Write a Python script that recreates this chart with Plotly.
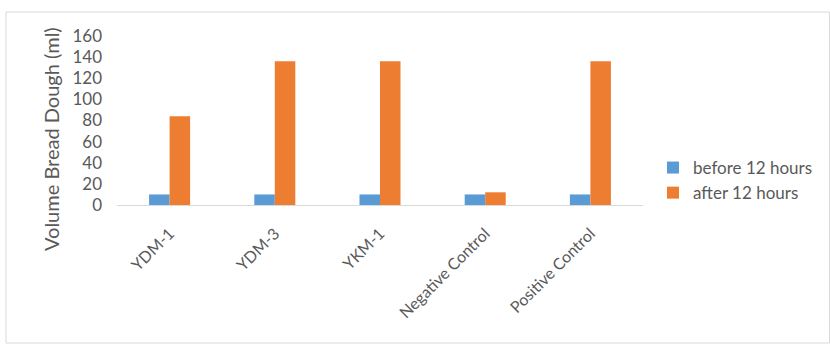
import plotly.graph_objects as go

categories = ["YDM-1", "YDM-3", "YKM-1", "Negative Control", "Positive Control"]
before_12h = [10, 10, 10, 10, 10]
after_12h = [84, 136, 136, 12, 136]
y_ticks = [0, 20, 40, 60, 80, 100, 120, 140, 160]

FONT = "Lato"
GREY = "#595959"

fig = go.Figure()
fig.add_trace(go.Bar(x=categories, y=before_12h, name="before 12 hours",
                     marker=dict(color="#5B9BD5", line=dict(width=0))))
fig.add_trace(go.Bar(x=categories, y=after_12h, name="after 12 hours",
                     marker=dict(color="#ED7D31", line=dict(width=0))))

L, R, T, B = 117, 643, 36, 205
W, H = 830, 345
pw, ph = R - L, B - T

def px(x):
    return (x - L) / pw

def py(y):
    return (B - y) / ph

fig.update_layout(
    width=W, height=H,
    margin=dict(l=L, r=W - R, t=T, b=H - B, autoexpand=False),
    paper_bgcolor="white", plot_bgcolor="white",
    barmode="group", bargap=0.61, bargroupgap=0,
    font=dict(family=FONT, color=GREY, size=13),
    showlegend=True,
    legend=dict(xref="container", yref="container", x=653 / W, y=1 - 150 / H,
                xanchor="left", yanchor="top",
                font=dict(size=17, color=GREY), tracegroupgap=0,
                itemwidth=30, bgcolor="rgba(0,0,0,0)"),
    xaxis=dict(tickangle=-45, showline=True, linecolor="#d9d9d9", linewidth=1,
               ticks="", tickfont=dict(size=16, color=GREY), showgrid=False,
               automargin=False, ticklabelstandoff=12),
    yaxis=dict(range=[0, 160], tickvals=y_ticks, showgrid=False, zeroline=False,
               showline=False, ticks="", tickfont=dict(size=17, color=GREY),
               ticklabelstandoff=14, automargin=False),
)

fig.add_annotation(text="Volume Bread Dough (ml)", xref="paper", yref="paper",
                   x=px(51), y=py(139), xanchor="center", yanchor="middle",
                   textangle=-90, showarrow=False,
                   font=dict(size=20, color=GREY, family=FONT))

fig.add_shape(type="rect", xref="paper", yref="paper",
              x0=px(6), x1=px(829.5), y0=py(343), y1=py(12),
              line=dict(color="#d9d9d9", width=1), fillcolor="rgba(0,0,0,0)",
              layer="below")

fig.write_html("out.html")
